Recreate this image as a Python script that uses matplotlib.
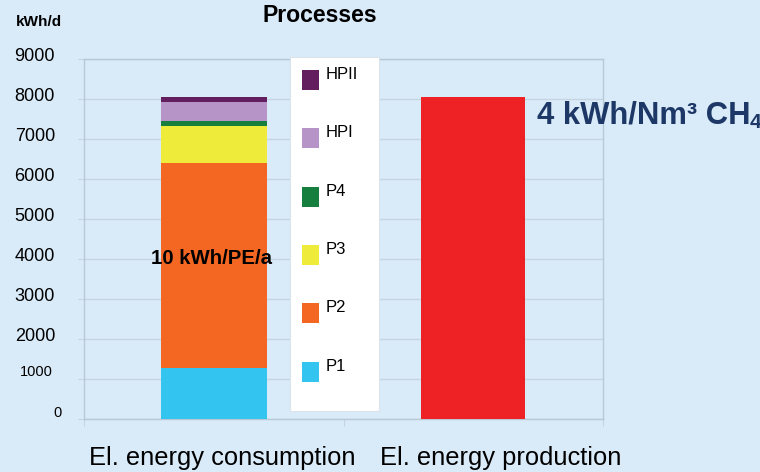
import matplotlib
matplotlib.use("Agg")
import matplotlib.pyplot as plt
from matplotlib import transforms
from matplotlib.patches import Rectangle

plt.rcParams['font.family'] = ['Liberation Sans', 'DejaVu Sans']

# ---- data -------------------------------------------------------------
categories = ["El. energy consumption", "El. energy production"]
processes = ["P1", "P2", "P3", "P4", "HPI", "HPII"]
consumption = [1280, 5120, 930, 120, 480, 120]      # kWh/d per process
production = [8050]                                  # kWh/d
process_colors = ["#33c4ef", "#f46722", "#eeeb3b", "#167f3d", "#b794c7", "#631e60"]
production_color = "#ee2224"
yticks = [0, 1000, 2000, 3000, 4000, 5000, 6000, 7000, 8000, 9000]
ytick_labels = [str(v) for v in yticks]

# ---- figure -----------------------------------------------------------
W, H = 760, 472
BG = "#d9eaf8"
GRID = "#c5d5e2"
SPINE = "#b9c8d5"
NAVY = "#1d3866"

fig = plt.figure(figsize=(W / 100, H / 100), dpi=100)
fig.patch.set_facecolor(BG)


def fx(px):
    return px / W


def fy(py):
    return 1 - py / H


ax = fig.add_axes([fx(84), fy(419), fx(603) - fx(84), fy(59) - fy(419)])
ax.set_facecolor(BG)
ax.set_xlim(-0.5, 1.5)
ax.set_ylim(0, 9000)

# stacked consumption bar
bottom = 0
for name, val, col in zip(processes, consumption, process_colors):
    ax.bar(0, val, width=0.41, bottom=bottom, color=col, zorder=3, linewidth=0)
    bottom += val

# production bar
ax.bar(1, production[0], width=0.40, color=production_color, zorder=3, linewidth=0)

# axes styling
ax.set_yticks(yticks)
ax.yaxis.grid(True, color=GRID, linewidth=1)
ax.set_axisbelow(True)
ax.tick_params(axis='y', labelleft=False, length=4.3, width=0.8, color=GRID, direction='out')
ax.set_xticks([-0.5, 0.5, 1.5])
ax.tick_params(axis='x', labelbottom=False, length=5, width=0.8, color=GRID, direction='out')
for sp in ax.spines.values():
    sp.set_color(SPINE)
    sp.set_linewidth(1)

# y tick labels (two sizes, sitting just around the grid lines)
ylab_tf = transforms.blended_transform_factory(fig.transFigure, ax.transData)
for v, lab in zip(yticks, ytick_labels):
    if v == 0:
        size, right, dy = 10.5, 62, 1.7
    elif v == 1000:
        size, right, dy = 10.5, 53, 3.3
    else:
        size, right, dy = 13, 55, -2.0
    off = transforms.ScaledTranslation(0, dy / 100, fig.dpi_scale_trans)
    fig.text(fx(right), v, lab, transform=ylab_tf + off, ha='right',
             va='baseline', fontsize=size, color='black')

# category labels
fig.text(fx(222.5), fy(465), categories[0], ha='center', va='baseline', fontsize=18.4)
fig.text(fx(500.5), fy(465), categories[1], ha='center', va='baseline', fontsize=18.4)

# titles
fig.text(fx(16), fy(26), "kWh/d", ha='left', va='baseline', fontsize=11, fontweight='bold')
fig.text(fx(262), fy(21.7), "Processes", ha='left', va='baseline', fontsize=16.6,
         fontweight='bold')

# legend box
fig.add_artist(Rectangle((fx(290), fy(411)), fx(379) - fx(290), fy(57) - fy(411),
                         transform=fig.transFigure, facecolor='white',
                         edgecolor='#dbe3ec', linewidth=0.8, zorder=5))
entries = list(zip(processes, process_colors))[::-1]
for i, (name, col) in enumerate(entries):
    cy = 80 + 58.35 * i
    fig.add_artist(Rectangle((fx(302), fy(cy + 10)), fx(319) - fx(302), fy(cy - 10) - fy(cy + 10),
                             transform=fig.transFigure, facecolor=col, edgecolor='none',
                             zorder=6))
    fig.text(fx(326), fy(cy - 1.2), name, ha='left', va='baseline', fontsize=12, zorder=6)

# annotations
fig.text(fx(212), fy(264), "10 kWh/PE/a", ha='center', va='baseline', fontsize=14.7,
         fontweight='bold', zorder=7)
fig.text(fx(537), fy(123.3), "4 kWh/Nm³ CH", ha='left', va='baseline',
         fontsize=22.3, fontweight='bold', color=NAVY, zorder=7)
fig.text(fx(750), fy(128), "4", ha='left', va='baseline', fontsize=15,
         fontweight='bold', color=NAVY, zorder=7)

fig.savefig("out.png", dpi=100, facecolor=BG)
